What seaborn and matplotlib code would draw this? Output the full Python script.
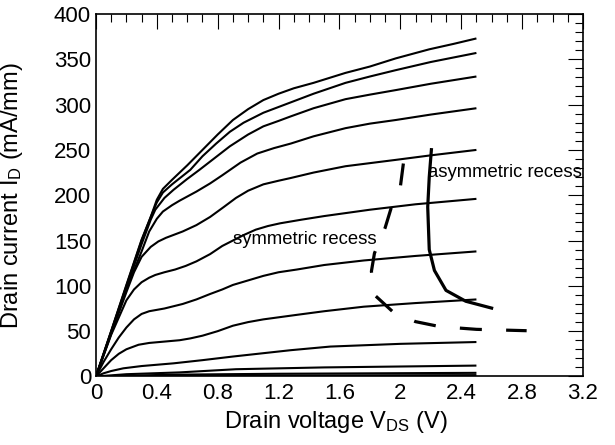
import numpy as np
import pandas as pd
import matplotlib
matplotlib.use("Agg")
import matplotlib.pyplot as plt
import seaborn as sns
from matplotlib.ticker import MultipleLocator

# ---- data (Drain voltage V, Drain current mA/mm) ----
c1_v = [0, 0.1, 0.2, 0.3, 0.36, 0.40, 0.44, 0.5, 0.6, 0.7, 0.8, 0.9, 1.0, 1.1, 1.2, 1.3, 1.43, 1.64, 1.8, 1.97, 2.19, 2.35, 2.5]
c1_i = [0, 50, 101, 151, 176, 195, 207, 217, 233, 250, 267, 283, 295, 305, 312, 318, 324, 335, 342, 351, 361, 367, 373]
c2_v = [0, 0.1, 0.2, 0.3, 0.36, 0.40, 0.44, 0.5, 0.62, 0.7, 0.79, 0.88, 0.97, 1.1, 1.21, 1.32, 1.43, 1.64, 1.8, 1.97, 2.2, 2.5]
c2_i = [0, 50, 100, 150, 176, 192, 203, 212, 228, 243, 257, 270, 280, 291, 298, 305, 312, 324, 331, 338, 347, 357]
c3_v = [0, 0.1, 0.2, 0.3, 0.36, 0.39, 0.45, 0.51, 0.6, 0.68, 0.78, 0.88, 1.0, 1.1, 1.2, 1.28, 1.43, 1.64, 1.8, 1.97, 2.2, 2.5]
c3_i = [0, 49, 98, 146, 173, 184, 197, 206, 218, 228, 241, 254, 267, 276, 282, 287, 296, 306, 311, 316, 323, 331]
c4_v = [0, 0.1, 0.2, 0.3, 0.35, 0.4, 0.44, 0.5, 0.55, 0.66, 0.75, 0.83, 0.95, 1.06, 1.17, 1.28, 1.43, 1.64, 1.8, 1.97, 2.2, 2.5]
c4_i = [0, 48, 96, 138, 160, 174, 182, 189, 194, 204, 213, 222, 236, 246, 252, 257, 265, 274, 279, 283, 289, 296]
c5_v = [0, 0.1, 0.2, 0.25, 0.3, 0.36, 0.41, 0.46, 0.57, 0.66, 0.75, 0.84, 0.92, 1.0, 1.1, 1.2, 1.28, 1.43, 1.64, 1.97, 2.2, 2.5]
c5_i = [0, 47, 93, 115, 132, 143, 149, 153, 160, 167, 176, 187, 197, 205, 212, 216, 219, 225, 232, 239, 244, 250]
c6_v = [0, 0.1, 0.2, 0.25, 0.3, 0.35, 0.39, 0.45, 0.52, 0.59, 0.66, 0.75, 0.83, 0.9, 0.97, 1.05, 1.13, 1.21, 1.35, 1.5, 1.8, 2.1, 2.5]
c6_i = [0, 46, 84, 96, 104, 109, 112, 115, 118, 122, 127, 135, 144, 150, 156, 162, 166, 169, 173, 177, 184, 190, 196]
c7_v = [0, 0.05, 0.1, 0.15, 0.2, 0.25, 0.3, 0.35, 0.45, 0.57, 0.66, 0.75, 0.83, 0.9, 1.0, 1.1, 1.2, 1.32, 1.5, 1.76, 2.1, 2.5]
c7_i = [0, 16, 30, 43, 54, 63, 69, 72, 75, 80, 85, 91, 96, 101, 106, 111, 115, 118, 123, 128, 133, 138]
c8_v = [0, 0.05, 0.1, 0.15, 0.2, 0.28, 0.35, 0.45, 0.55, 0.62, 0.7, 0.8, 0.9, 1.0, 1.1, 1.32, 1.5, 1.76, 2.1, 2.5]
c8_i = [0, 9, 18, 25, 30, 35, 37, 38.5, 40, 42, 45, 50, 56, 60, 63, 68, 72, 77, 81, 85]
c9_v = [0, 0.05, 0.1, 0.18, 0.3, 0.51, 0.7, 0.9, 1.28, 1.54, 2.0, 2.5]
c9_i = [0, 3.5, 6, 9, 11.5, 14.5, 18, 22, 29, 33, 36, 38]
c10_v = [0, 0.2, 0.55, 0.92, 1.5, 2.5]
c10_i = [0, 2.5, 4.5, 8, 10, 12]
c11_v = [0, 0.5, 1.2, 2.5]
c11_i = [0, 2, 3, 4]
c12_v = [0, 1.0, 2.5]
c12_i = [0, 1, 1.5]

asym_v = [2.205, 2.19, 2.18, 2.19, 2.224, 2.30, 2.43, 2.61]
asym_i = [252, 220, 187, 140, 117, 95, 83, 75]
sym_v = [2.02, 2.0, 1.94, 1.90, 1.83, 1.81, 1.83, 1.95, 2.10, 2.26, 2.50, 2.83]
sym_i = [235, 209, 186, 164, 136, 116, 90, 71.5, 60.5, 55, 52, 50.5]

x_ticks = [0, 0.4, 0.8, 1.2, 1.6, 2, 2.4, 2.8, 3.2]
x_tick_labels = ["0", "0.4", "0.8", "1.2", "1.6", "2", "2.4", "2.8", "3.2"]
y_ticks = [0, 50, 100, 150, 200, 250, 300, 350, 400]

curves = [(c1_v, c1_i), (c2_v, c2_i), (c3_v, c3_i), (c4_v, c4_i), (c5_v, c5_i),
          (c6_v, c6_i), (c7_v, c7_i), (c8_v, c8_i), (c9_v, c9_i), (c10_v, c10_i),
          (c11_v, c11_i), (c12_v, c12_i)]

df = pd.concat([pd.DataFrame({"V": v, "I": i, "curve": k}) for k, (v, i) in enumerate(curves)],
               ignore_index=True)
df_asym = pd.DataFrame({"V": asym_v, "I": asym_i})
df_sym = pd.DataFrame({"V": sym_v, "I": sym_i})

# ---- style ----
sns.set_theme(style="white")
plt.rcParams["font.family"] = ["Liberation Sans", "DejaVu Sans"]
plt.rcParams["mathtext.fontset"] = "custom"
plt.rcParams["mathtext.rm"] = "Liberation Sans"
plt.rcParams["mathtext.it"] = "Liberation Sans:italic"

fig = plt.figure(figsize=(6.15, 4.45), dpi=100)
ax = fig.add_axes([0.156, 0.154, 0.7919, 0.8146])

sns.lineplot(data=df, x="V", y="I", units="curve", estimator=None, sort=False,
             color="black", linewidth=1.5, ax=ax, legend=False)
sns.lineplot(data=df_asym, x="V", y="I", estimator=None, sort=False,
             color="black", linewidth=2.3, ax=ax, legend=False)
sns.lineplot(data=df_sym, x="V", y="I", estimator=None, sort=False,
             color="black", linewidth=2.3, ax=ax, legend=False)
for ln in ax.lines:
    ln.set_solid_capstyle("butt")
    ln.set_dash_capstyle("butt")
    ln.set_solid_joinstyle("round")
ax.lines[-1].set_linestyle((0, (6.9, 7.6)))

ax.set_xlim(0, 3.2)
ax.set_ylim(0, 400)
ax.set_xticks(x_ticks)
ax.set_xticklabels(x_tick_labels)
ax.set_yticks(y_ticks)
ax.xaxis.set_minor_locator(MultipleLocator(0.1))
ax.yaxis.set_minor_locator(MultipleLocator(10))
ax.tick_params(which="both", direction="in", top=True, right=True,
               color="black", width=0.8, labelsize=16, labelcolor="black")
ax.tick_params(which="major", length=11)
ax.tick_params(which="minor", length=6)
ax.tick_params(axis="x", pad=5)
ax.tick_params(axis="y", pad=3.5)
for s in ax.spines.values():
    s.set_color("black")
    s.set_linewidth(1.2)

ax.set_xlabel(r"Drain voltage V$_{\mathrm{DS}}$ (V)", fontsize=17, color="black")
ax.set_ylabel(r"Drain current I$_{\mathrm{D}}$ (mA/mm)", fontsize=17, color="black")
ax.xaxis.set_label_coords(0.493, -0.09)
ax.yaxis.set_label_coords(-0.146, 0.5)

ax.text(0.90, 150.7, "symmetric recess", fontsize=13.3, va="center", ha="left", color="black")
ax.text(2.18, 224.6, "asymmetric recess", fontsize=13.3, va="center", ha="left", color="black")

fig.savefig("out.png", dpi=100)
